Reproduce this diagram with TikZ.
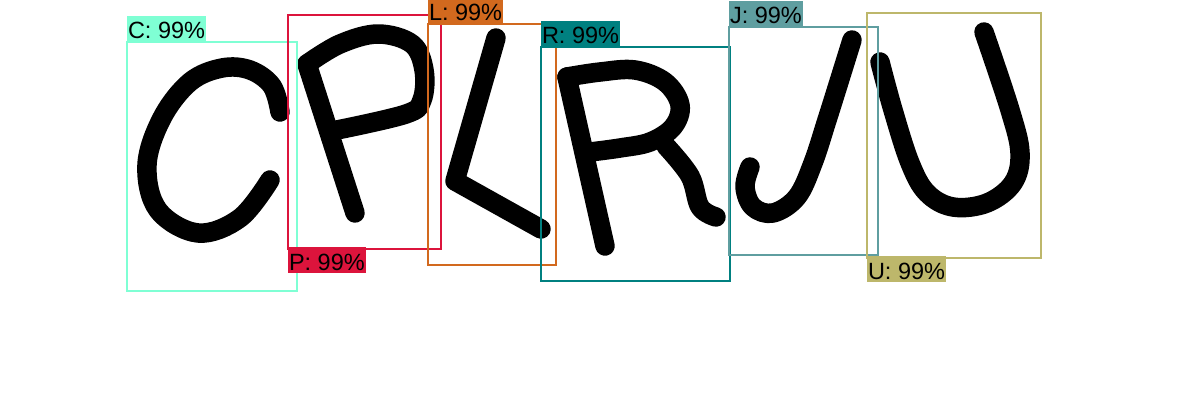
\documentclass[tikz,border=0pt]{standalone}
\usepackage{fontspec}
\setmainfont{Liberation Sans}
\definecolor{cC}{RGB}{127,255,212}
\definecolor{cP}{RGB}{220,20,60}
\definecolor{cL}{RGB}{210,105,30}
\definecolor{cR}{RGB}{0,128,128}
\definecolor{cJ}{RGB}{95,158,160}
\definecolor{cU}{RGB}{189,183,107}
\begin{document}
\begin{tikzpicture}[x=1pt,y=-1pt,
  letter/.style={line width=19.5pt, line cap=round, line join=round, draw=black},
  bbox/.style={draw, line width=2pt, inner sep=0pt, outer sep=0pt, anchor=north west, fill=none},
  lbl/.style={inner xsep=1pt, inner ysep=0pt, outer sep=0pt, text height=23pt, text depth=3pt,
    font=\fontsize{23.5}{28}\selectfont, text=black}]
\useasboundingbox (0,0) rectangle (1200,420);
\fill[white] (0,0) rectangle (1200,420);
% letters
\draw[letter] plot[smooth, tension=0.6] coordinates {(280,112) (272,86) (250,70) (222,68) (190,82) (162,118) (147,165) (158,210) (198,233) (240,218) (270,180)};
\draw[letter] (355,213) -- (307,64);
\draw[letter] plot[smooth, tension=0.6] coordinates {(307,64) (340,44) (378,34) (412,44) (424,70) (422,100) (406,114) (337,130)};
\draw[letter] (496,38) -- (455,181) -- (541,229);
\draw[letter] (605,246) -- (567,77);
\draw[letter] plot[smooth, tension=0.6] coordinates {(567,77) (600,72) (635,70) (665,82) (680,105) (673,127) (650,142) (620,148) (590,152)};
\draw[letter] plot[smooth, tension=0.6] coordinates {(666,146) (690,176) (700,207) (716,217)};
\draw[letter] plot[smooth, tension=0.6] coordinates {(852,40) (838,85) (827,120) (813,163) (797,197) (773,213) (753,207) (745,187) (750,167)};
\draw[letter] plot[smooth, tension=0.6] coordinates {(880,62) (893,110) (910,163) (927,193) (953,207) (987,203) (1013,183) (1020,153) (1010,110) (984,32)};
% boxes
\node[bbox, draw=cC, minimum width=170pt, minimum height=249pt] (bC) at (127,42) {};
\node[bbox, draw=cP, minimum width=153pt, minimum height=234pt] (bP) at (288,15) {};
\node[bbox, draw=cL, minimum width=128pt, minimum height=241pt] (bL) at (428,24) {};
\node[bbox, draw=cR, minimum width=189pt, minimum height=234pt] (bR) at (541,47) {};
\node[bbox, draw=cJ, minimum width=149pt, minimum height=228pt] (bJ) at (729,27) {};
\node[bbox, draw=cU, minimum width=174pt, minimum height=245pt] (bU) at (867,13) {};
% labels
\node[lbl, fill=cC, anchor=south west] (tC) at (bC.north west) {C: 99\%};
\node[lbl, fill=cP, anchor=north west] (tP) at ([yshift=2pt]bP.south west) {P: 99\%};
\node[lbl, fill=cL, anchor=south west] (tL) at (bL.north west) {L: 99\%};
\node[lbl, fill=cR, anchor=south west] (tR) at (bR.north west) {R: 99\%};
\node[lbl, fill=cJ, anchor=south west] (tJ) at (bJ.north west) {J: 99\%};
\node[lbl, fill=cU, anchor=north west] (tU) at ([yshift=2pt]bU.south west) {U: 99\%};
\end{tikzpicture}
\end{document}
